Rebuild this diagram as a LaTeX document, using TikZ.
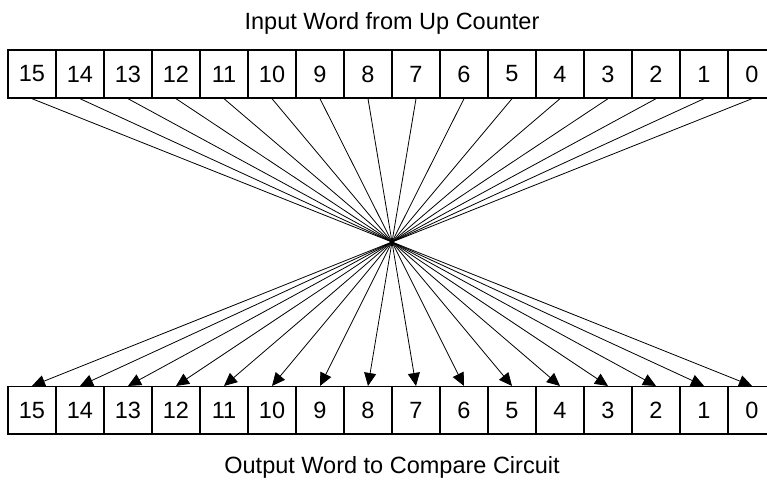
\documentclass[tikz,border=0pt]{standalone}
\usepackage{fontspec}
\setmainfont{Liberation Sans}
\usetikzlibrary{arrows.meta}
\begin{document}
\begin{tikzpicture}[x=1pt,y=1pt,
  bit/.style={draw, line width=1.4pt, minimum width=48pt, minimum height=48pt, inner sep=0pt, font=\fontsize{23.5}{27}\selectfont},
  wire/.style={line width=0.8pt},
  arr/.style={line width=0.8pt, -{Triangle[length=13pt,width=12pt]}},
  title/.style={font=\fontsize{23.5}{27}\selectfont, anchor=base}]
\useasboundingbox (0,0) rectangle (767,479);
\clip (0,0) rectangle (767,479);
\fill[white] (0,0) rectangle (767,479);
\coordinate (X) at (392,237);
\foreach \i in {0,...,15}{
  \pgfmathtruncatemacro{\lab}{15-\i}
  \node[bit] (t\i) at (32+48*\i,405) {\lab};
  \node[bit, minimum height=47.3pt] (b\i) at (32+48*\i,68.7) {\lab};
}
\foreach \i in {0,...,15}{
  \draw[wire] (t\i.south) -- (X);
  \draw[arr] (X) -- (b\i.north);
}
\node[title] (top) at (392,449) {Input Word from Up Counter};
\node[title] (bot) at (392,6) {Output Word to Compare Circuit};
\end{tikzpicture}
\end{document}
